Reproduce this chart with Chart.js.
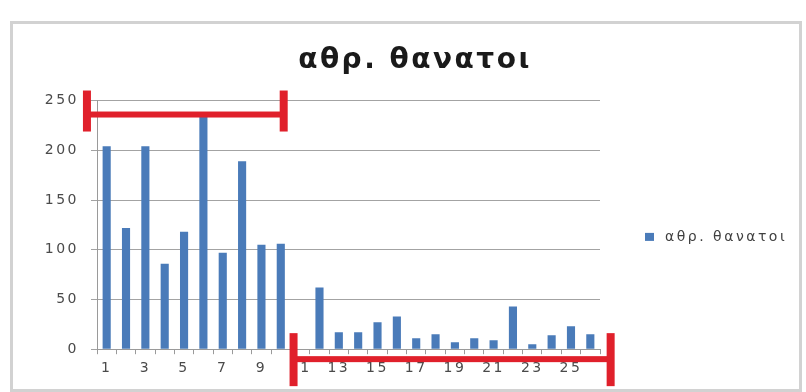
<!DOCTYPE html>
<html>
<head>
<meta charset="utf-8">
<script src="https://cdn.jsdelivr.net/npm/chart.js@4"></script>
<style>
  html, body { margin: 0; padding: 0; background: #fff; }
  #wrap { position: relative; width: 806px; height: 392px; }
</style>
</head>
<body>
<div id="wrap"><canvas id="deaths" width="806" height="392"></canvas></div>
<script>
// days 1..26
const days = ['1','2','3','4','5','6','7','8','9','10','11','12','13',
              '14','15','16','17','18','19','20','21','22','23','24','25','26']
const deaths = [204, 122, 204, 86, 118, 235, 97, 189, 105, 106, 0, 62, 17,
                17, 27, 33, 11, 15, 7, 11, 9, 43, 5, 14, 23, 15]
const yTicks = [0, 50, 100, 150, 200, 250]
const seriesName = 'αθρ. θανατοι'

// red brackets over the two periods (category index from/to, value level)
const brackets = [
    { from: -1.02, to: 9.15, at: 236, capUp: 24, capDown: 17 },
    { from: 9.66, to: 26.05, at: -10, capUp: 26, capDown: 27 }
]

// wide letter spacing for all the chart text
const spacingPlugin = {
    id: 'spacing',
    beforeLayout(chart) { chart.ctx.letterSpacing = '2.5px' },
    beforeDraw(chart) { chart.ctx.letterSpacing = '2.5px' }
}

const framePlugin = {
    id: 'frame',
    beforeDraw(chart) {
        const ctx = chart.ctx
        ctx.save()
        ctx.fillStyle = '#fff'
        ctx.fillRect(0, 0, chart.width, chart.height)
        ctx.strokeStyle = '#d2d2d2'
        ctx.lineWidth = 3
        ctx.strokeRect(11.5, 22.5, 789, 368)
        ctx.restore()
    }
}

const bracketPlugin = {
    id: 'brackets',
    afterDatasetsDraw(chart) {
        const ctx = chart.ctx
        const x = chart.scales.x
        const y = chart.scales.y
        ctx.save()
        ctx.fillStyle = '#e0202b'
        brackets.forEach(function(b) {
            const x1 = x.getPixelForValue(b.from)
            const x2 = x.getPixelForValue(b.to)
            const yy = y.getPixelForValue(b.at)
            ctx.fillRect(x1, yy - 3, x2 - x1, 6)
            ctx.fillRect(x1 - 4, yy - b.capUp, 8, b.capUp + b.capDown)
            ctx.fillRect(x2 - 4, yy - b.capUp, 8, b.capUp + b.capDown)
        })
        ctx.restore()
    }
}

// single legend entry to the right of the plot
const sideLegendPlugin = {
    id: 'sideLegend',
    afterDraw(chart) {
        const ctx = chart.ctx
        const area = chart.chartArea
        const ds = chart.data.datasets[0]
        const lx = area.right + 45
        const ly = (area.top + area.bottom) / 2 + 12
        ctx.save()
        ctx.fillStyle = ds.backgroundColor
        ctx.fillRect(lx, ly - 4, 9, 8)
        ctx.fillStyle = '#404040'
        ctx.font = '14px "DejaVu Sans"'
        ctx.textBaseline = 'middle'
        ctx.fillText(ds.label, lx + 20, ly)
        ctx.restore()
    }
}

new Chart(document.getElementById('deaths'), {
    type: 'bar',
    data: {
        labels: days,
        datasets: [{
            label: seriesName,
            data: deaths,
            backgroundColor: '#4a7bb9',
            borderWidth: 0,
            barPercentage: 0.42,
            categoryPercentage: 1
        }]
    },
    options: {
        responsive: false,
        animation: false,
        layout: { padding: { top: 36, left: 34, right: 10, bottom: 9 } },
        plugins: {
            title: {
                display: true,
                text: seriesName,
                color: '#1a1a1a',
                font: { family: 'DejaVu Sans', size: 28, weight: 'bold' },
                padding: { top: 8, bottom: 23 }
            },
            legend: { display: false },
            tooltip: { enabled: false }
        },
        scales: {
            x: {
                grid: {
                    display: true,
                    drawOnChartArea: false,
                    offset: true,
                    tickLength: 5,
                    color: '#9a9a9a'
                },
                border: { color: '#9a9a9a' },
                ticks: {
                    autoSkip: false,
                    maxRotation: 0,
                    color: '#4a4a4a',
                    font: { family: 'DejaVu Sans', size: 14 },
                    padding: 6,
                    callback: function(v, i) { return i % 2 === 0 ? days[i] : '' }
                }
            },
            y: {
                min: yTicks[0],
                max: yTicks[yTicks.length - 1],
                afterBuildTicks: function(axis) {
                    axis.ticks = yTicks.map(function(v) { return { value: v } })
                },
                afterFit: function(axis) { axis.width = 63 },
                grid: { color: '#a3a3a3', tickLength: 6 },
                border: { color: '#9a9a9a' },
                ticks: {
                    color: '#4a4a4a',
                    font: { family: 'DejaVu Sans', size: 14 },
                    padding: 12
                }
            },
            // empty axis that keeps room for the legend on the right
            gap: {
                type: 'linear',
                axis: 'y',
                position: 'right',
                grid: { display: false },
                border: { display: false },
                ticks: { display: false },
                afterFit: function(axis) { axis.width = 196 }
            }
        }
    },
    plugins: [spacingPlugin, framePlugin, bracketPlugin, sideLegendPlugin]
})
</script>
</body>
</html>
